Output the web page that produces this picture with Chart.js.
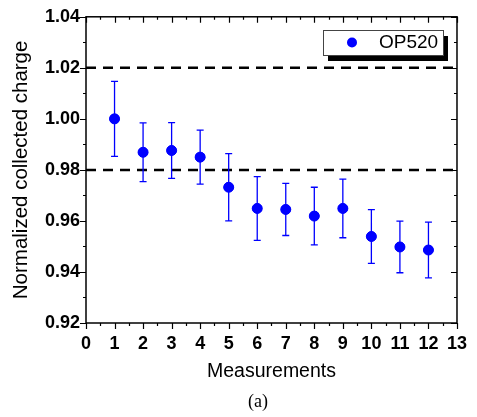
<!DOCTYPE html>
<html>
<head>
<meta charset="utf-8">
<script src="https://cdn.jsdelivr.net/npm/chart.js@4/dist/chart.umd.min.js"></script>
<style>
  html, body { margin: 0; padding: 0; background: #fff; }
  #wrap { width: 477px; height: 417px; }
</style>
</head>
<body>
<div id="wrap"><canvas id="chart" width="477" height="417"></canvas></div>
<script>
// data
const measurements = [1, 2, 3, 4, 5, 6, 7, 8, 9, 10, 11, 12];
const charge = [1.000, 0.9869, 0.9876, 0.985, 0.9732, 0.9649, 0.9645, 0.9619, 0.9649, 0.9539, 0.9498, 0.9486];
const chargeErr = [0.0147, 0.0115, 0.0109, 0.0106, 0.0132, 0.0125, 0.0102, 0.0113, 0.0115, 0.0105, 0.0101, 0.0109];
const limits = [0.98, 1.02];
const xRange = [0, 13];
const yRange = [0.92, 1.04];
const seriesName = 'OP520';

const SANS = '"Liberation Sans", Arial, sans-serif';
const BLUE = '#0000ff';

// frame with inward/outward ticks like the original plot
const frameTicks = {
    id: 'frameTicks',
    afterDraw(chart) {
        const ctx = chart.ctx;
        const a = chart.chartArea;
        const xs = chart.scales.x;
        const ys = chart.scales.y;
        ctx.save();
        ctx.strokeStyle = '#000';
        ctx.lineWidth = 1.5;
        ctx.strokeRect(a.left, a.top, a.right - a.left, a.bottom - a.top);

        ctx.lineWidth = 1.2;
        ctx.beginPath();
        for (let i = 0; i <= (xRange[1] - xRange[0]) * 2; i++) {
            const v = xRange[0] + i * 0.5;
            const px = Math.round(xs.getPixelForValue(v)) + 0.5;
            const len = i % 2 === 0 ? 6 : 3;
            ctx.moveTo(px, a.bottom); ctx.lineTo(px, a.bottom + len);
            ctx.moveTo(px, a.top); ctx.lineTo(px, a.top + len);
        }
        for (let i = 0; i <= 12; i++) {
            const v = yRange[0] + i * 0.01;
            const py = Math.round(ys.getPixelForValue(v)) + 0.5;
            const len = i % 2 === 0 ? 6 : 3;
            ctx.moveTo(a.left, py); ctx.lineTo(a.left - len, py);
            ctx.moveTo(a.right, py); ctx.lineTo(a.right - len, py);
        }
        ctx.stroke();

        // legend box with shadow
        const lx = 323, ly = 30, lw = 120, lh = 25;
        ctx.fillStyle = '#000';
        ctx.fillRect(lx + 5, ly + 6, lw, lh);
        ctx.fillStyle = '#fff';
        ctx.fillRect(lx, ly, lw, lh);
        ctx.strokeStyle = '#444';
        ctx.lineWidth = 1;
        ctx.strokeRect(lx + 0.5, ly + 0.5, lw, lh);
        ctx.fillStyle = BLUE;
        ctx.beginPath();
        ctx.arc(352, 42.5, 5, 0, Math.PI * 2);
        ctx.fill();
        ctx.fillStyle = '#000';
        ctx.font = '19px ' + SANS;
        ctx.textBaseline = 'middle';
        ctx.textAlign = 'left';
        ctx.fillText(seriesName, 379, 43);

        // panel label
        ctx.font = '18px "Liberation Serif", "Times New Roman", serif';
        ctx.textAlign = 'center';
        ctx.fillText('(a)', 258, 402);
        ctx.restore();
    }
};

// vertical error bars with caps
const errorBars = {
    id: 'errorBars',
    afterDatasetsDraw(chart) {
        const ctx = chart.ctx;
        const xs = chart.scales.x;
        const ys = chart.scales.y;
        ctx.save();
        ctx.strokeStyle = BLUE;
        ctx.lineWidth = 1.3;
        ctx.beginPath();
        measurements.forEach(function(m, i) {
            const px = xs.getPixelForValue(m);
            const top = ys.getPixelForValue(charge[i] + chargeErr[i]);
            const bot = ys.getPixelForValue(charge[i] - chargeErr[i]);
            ctx.moveTo(px, top); ctx.lineTo(px, bot);
            ctx.moveTo(px - 3.5, top); ctx.lineTo(px + 3.5, top);
            ctx.moveTo(px - 3.5, bot); ctx.lineTo(px + 3.5, bot);
        });
        ctx.stroke();
        // redraw markers on top
        ctx.fillStyle = BLUE;
        measurements.forEach(function(m, i) {
            ctx.beginPath();
            ctx.arc(xs.getPixelForValue(m), ys.getPixelForValue(charge[i]), 5, 0, Math.PI * 2);
            ctx.fill();
        });
        ctx.restore();
    }
};

const limitSets = limits.map(function(v) {
    return {
        data: [{x: xRange[0], y: v}, {x: xRange[1], y: v}],
        showLine: true,
        borderColor: '#000',
        borderWidth: 2.5,
        borderDash: [10, 7],
        pointRadius: 0,
        order: 2
    };
});

new Chart(document.getElementById('chart'), {
    type: 'scatter',
    data: {
        datasets: [{
            label: seriesName,
            data: measurements.map((m, i) => ({x: m, y: charge[i]})),
            backgroundColor: BLUE,
            borderColor: BLUE,
            pointRadius: 5,
            order: 1
        }].concat(limitSets)
    },
    options: {
        responsive: false,
        animation: false,
        devicePixelRatio: 1,
        layout: { padding: { left: 0, right: 19, top: 14, bottom: 0 } },
        plugins: { legend: { display: false }, tooltip: { enabled: false } },
        scales: {
            x: {
                type: 'linear',
                min: xRange[0],
                max: xRange[1],
                grid: { display: false, drawTicks: false },
                border: { display: false },
                ticks: {
                    stepSize: 1,
                    autoSkip: false,
                    maxRotation: 0,
                    padding: 10,
                    color: '#000',
                    font: { family: SANS, size: 18, weight: 'bold' }
                },
                title: {
                    display: true,
                    text: 'Measurements',
                    color: '#000',
                    font: { family: SANS, size: 19.5 },
                    padding: { top: 0, bottom: 34 }
                },
                afterFit: function(scale) { scale.height = 94; }
            },
            y: {
                type: 'linear',
                min: yRange[0],
                max: yRange[1],
                grid: { display: false, drawTicks: false },
                border: { display: false },
                ticks: {
                    stepSize: 0.02,
                    padding: 6,
                    color: '#000',
                    font: { family: SANS, size: 18, weight: 'bold' },
                    callback: function(v) { return v.toFixed(2); }
                },
                title: {
                    display: true,
                    text: 'Normalized collected charge',
                    color: '#000',
                    font: { family: SANS, size: 20.5 },
                    padding: { top: 9, bottom: 0 }
                },
                afterFit: function(scale) { scale.width = 86; }
            }
        }
    },
    plugins: [errorBars, frameTicks]
});
</script>
</body>
</html>
